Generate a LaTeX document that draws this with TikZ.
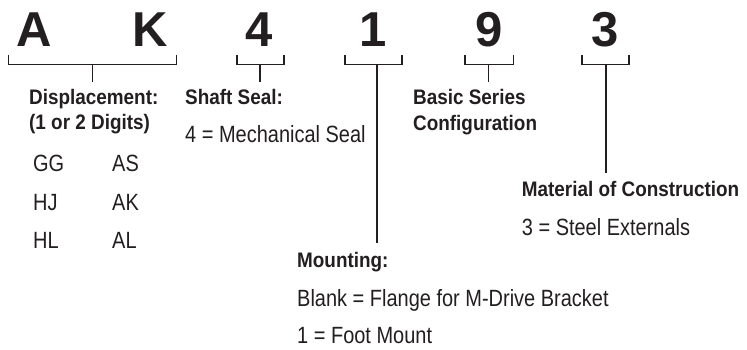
\documentclass[tikz,border=0pt]{standalone}
\usepackage{fontspec}
\setmainfont{Liberation Sans}
\newfontfamily\regc{Liberation Sans}[FakeStretch=0.85]
\newfontfamily\boldc{Liberation Sans Bold}[FakeStretch=0.9]
\newfontfamily\bigf{Liberation Sans Bold}
\definecolor{ink}{RGB}{35,31,32}
\begin{document}
\begin{tikzpicture}[x=1pt,y=-1pt,
  big/.style={anchor=base,inner sep=0pt,font=\bigf\fontsize{49}{49}\selectfont,text=ink},
  head/.style={anchor=base west,inner sep=0pt,font=\boldc\fontsize{21}{24}\selectfont,text=ink},
  body/.style={anchor=base west,inner sep=0pt,font=\regc\fontsize{23.5}{26}\selectfont,text=ink},
  brk/.style={draw=ink,line width=1.3pt}]
\useasboundingbox[fill=white] (0,0) rectangle (747,349);
% code letters
\node[big] (cA) at (34.3,46.5) {A};
\node[big] (cK) at (150,46.5) {K};
\node[big] (c4) at (259,46.5) {4};
\node[big] (c1) at (373,46.5) {1};
\node[big] (c9) at (489.5,46.5) {9};
\node[big] (c3) at (605,46.5) {3};
% labels
\node[head] (disp) at (29,104) {Displacement:};
\node[head] (digs) at (29,129) {(1 or 2 Digits)};
\node[body] (gg) at (33,171.5) {GG};
\node[body] (as) at (112,171.5) {AS};
\node[body] (hj) at (33,210) {HJ};
\node[body] (ak) at (112,210) {AK};
\node[body] (hl) at (33,248) {HL};
\node[body] (al) at (112,248) {AL};
\node[head] (seal) at (185,104) {Shaft Seal:};
\node[body] (mech) at (185,142) {4 = Mechanical Seal};
\node[head] (basic) at (413,104) {Basic Series};
\node[head] (conf) at (413,130) {Configuration};
\node[head] (mat) at (521.7,196.5) {Material of Construction};
\node[body] (steel) at (521.7,235) {3 = Steel Externals};
\node[head] (mount) at (297,267) {Mounting:};
\node[body] (blank) at (297,306) {Blank = Flange for M-Drive Bracket};
\node[body] (foot) at (297,343.5) {1 = Foot Mount};
% brackets
\draw[brk] (8.3,55) |- (176.7,64.3) -- (176.7,55);
\draw[brk] (92.3,64.3) -- (92.3,81.7);
\draw[brk] (237,55) |- (284,64.3) -- (284,55);
\draw[brk] (260,64.3) -- (260,81.7);
\draw[brk] (345,55) |- (402,64.3) -- (402,55);
\draw[brk] (377,64.3) -- (377,243);
\draw[brk] (465,55) |- (513.3,64.3) -- (513.3,55);
\draw[brk] (488.5,64.3) -- (488.5,81.7);
\draw[brk] (582,55) |- (629,64.3) -- (629,55);
\draw[brk] (606,64.3) -- (606,173);
\end{tikzpicture}
\end{document}
